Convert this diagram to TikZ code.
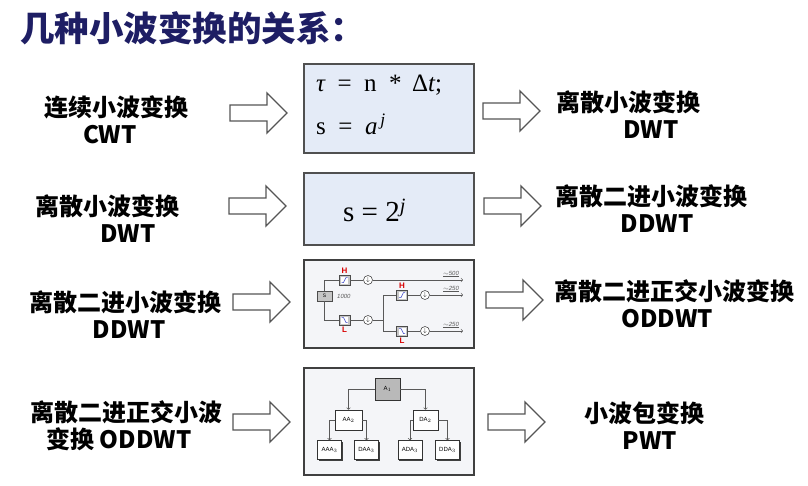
\documentclass[tikz,border=0pt]{standalone}
\usepackage{fontspec}
\newfontfamily\cjk{Noto Sans CJK SC}
\newfontfamily\serif{Liberation Serif}
\newfontfamily\sans{Liberation Sans}
\definecolor{titleblue}{RGB}{30,30,100}
\definecolor{boxblue}{RGB}{228,235,247}
\definecolor{boxgray}{RGB}{80,80,80}
\definecolor{picgray}{RGB}{244,245,248}
\definecolor{arrowgray}{RGB}{85,85,85}
\definecolor{filtblue}{RGB}{60,70,200}
\usetikzlibrary{positioning,shadows}

\begin{document}
\begin{tikzpicture}[x=1pt,y=-1pt,
        every node/.style={inner sep=0},
        headline/.style={font=\cjk\bfseries\fontsize{34.5}{36}\selectfont,text=titleblue},
        wavelabel/.style={font=\cjk\bfseries\fontsize{24}{27}\selectfont,align=center},
        formbox/.style={draw=boxgray,line width=1.8pt,fill=boxblue,minimum width=170},
        picbox/.style={draw=boxgray!80!black,line width=2.4pt,fill=picgray,minimum width=170},
        formula/.style={font=\serif\fontsize{25}{28}\selectfont},
        fatarrow/.pic={\draw[arrowgray,line width=1.3pt,fill=white] (0,-8) -- (37,-8) -- (37,-20) -- (57,0) -- (37,20) -- (37,8) -- (0,8) -- cycle;},
        wire/.style={draw=gray!70!black,line width=0.6pt},
        filt/.style={draw=gray!60!black,fill=gray!45,line width=0.6pt,minimum width=11,minimum height=10},
        hpass/.style={filt,path picture={
            \fill[white] ([shift={(-3.5pt,-3.5pt)}]path picture bounding box.center) rectangle ++(7pt,7pt);
            \draw[filtblue,line width=0.5pt] ([shift={(-3pt,-2.5pt)}]path picture bounding box.center) -- ++(2pt,0pt) -- ++(2.5pt,5pt) -- ++(1.5pt,0pt);}},
        lpass/.style={filt,path picture={
            \fill[white] ([shift={(-3.5pt,-3.5pt)}]path picture bounding box.center) rectangle ++(7pt,7pt);
            \draw[filtblue,line width=0.5pt] ([shift={(-3pt,2.5pt)}]path picture bounding box.center) -- ++(2pt,0pt) -- ++(2.5pt,-5pt) -- ++(1.5pt,0pt);}},
        dsamp/.style={circle,draw=gray!60!black,fill=white,line width=0.6pt,minimum size=9,font=\fontsize{6}{6}\selectfont},
        band/.style={font=\sans\itshape\fontsize{6}{7}\selectfont,text=gray!70!black},
        hl/.style={font=\sans\bfseries\fontsize{8}{8}\selectfont,text=red!85!black},
        treenode/.style={draw=gray!40!black,fill=white,line width=0.6pt,minimum width=24,minimum height=19,
            font=\sans\fontsize{6}{7}\selectfont,drop shadow={shadow xshift=1.2pt,shadow yshift=-1.2pt,fill=black!75,opacity=1}}
        ]
        \useasboundingbox (0,0) rectangle (808,486);

        % title
        \node[headline,anchor=west] (title) at (20,28) {几种小波变换的关系：};

        % names on the left
        \node[wavelabel] (cwt) at (116,119.5) {连续小波变换\\CWT\hspace*{12pt}};
        \node[wavelabel] (dwt) at (107,219) {离散小波变换\\\hspace*{42pt}DWT};
        \node[wavelabel] (ddwt) at (125,315) {离散二进小波变换\\\hspace*{8pt}DDWT};
        \node[wavelabel] (oddwt) at (126,426) {离散二进正交小波\\变换 ODDWT\hspace*{14pt}};

        % names on the right
        \node[wavelabel] (dwtr) at (628,114.5) {离散小波变换\\\hspace*{46pt}DWT};
        \node[wavelabel] (ddwtr) at (651,208.5) {离散二进小波变换\\\hspace*{12pt}DDWT};
        \node[wavelabel] (oddwtr) at (674,303.5) {离散二进正交小波变换\\ODDWT\hspace*{14pt}};
        \node[wavelabel] (pwt) at (644,425.5) {小波包变换\\\hspace*{12pt}PWT};

        % the block arrows
        \pic at (230,113) {fatarrow};
        \pic at (229,206) {fatarrow};
        \pic at (233,302) {fatarrow};
        \pic at (233,422) {fatarrow};
        \pic at (483,111) {fatarrow};
        \pic at (484,206) {fatarrow};
        \pic at (486,300) {fatarrow};
        \pic at (488,422) {fatarrow};

        % the boxes in the middle
        \node[formbox,minimum height=89] (box1) at (389,108.5) {};
        \node[formbox,minimum height=72] (box2) at (389,209) {};
        \node[picbox,minimum height=88] (box3) at (389,304) {};
        \node[picbox,minimum height=107] (box4) at (389,421.5) {};

        % formulas
        \node[formula,anchor=base west] (tau) at (316,92) {{\itshape τ}\ \ =\ \ n\ \ *\ \,Δ{\itshape t};};
        \node[formula,anchor=base west] (sa) at (316,135) {s\ \ =\ \ {\itshape a}\textsuperscript{\,\itshape j}};
        \node[formula,font=\serif\fontsize{29}{30}\selectfont,anchor=base west] (s2) at (343,222) {s = 2\textsuperscript{\itshape j}};

        % the filter bank
        \node[filt,minimum width=15,font=\sans\fontsize{5}{5}\selectfont] (sig) at (324.5,296) {S};
        \node[band,anchor=west] (n1000) at (337,296) {1000};
        \node[hpass] (h1) at (344.5,280) {};
        \node[lpass] (l1) at (344.5,320) {};
        \node[hl,above=1.5pt of h1] (h1t) {H};
        \node[hl,below=1.5pt of l1] (l1t) {L};
        \node[dsamp] (d1) at (368,280) {$\downarrow$};
        \node[dsamp] (d2) at (368,320) {$\downarrow$};
        \coordinate (junc) at (383,320);
        \node[hpass] (h2) at (402,295) {};
        \node[lpass] (l2) at (402,331) {};
        \node[hl,above=1.5pt of h2] (h2t) {H};
        \node[hl,below=1.5pt of l2] (l2t) {L};
        \node[dsamp] (d3) at (425,295) {$\downarrow$};
        \node[dsamp] (d4) at (425,331) {$\downarrow$};
        \coordinate (out1) at (463,280);
        \coordinate (out2) at (463,295);
        \coordinate (out3) at (463,331);
        \node[band] (b500) at (451,274) {\underline{$\sim$500}};
        \node[band] (b250a) at (451,289) {\underline{$\sim$250}};
        \node[band] (b250b) at (451,325) {\underline{$\sim$250}};

        \draw[wire] (sig.north) |- (h1.west);
        \draw[wire] (sig.south) |- (l1.west);
        \draw[wire] (h1) -- (d1);
        \draw[wire] (l1) -- (d2);
        \draw[wire,->] (d1) -- (out1);
        \draw[wire] (d2) -- (junc);
        \draw[wire] (junc) |- (h2.west);
        \draw[wire] (junc) |- (l2.west);
        \draw[wire] (h2) -- (d3);
        \draw[wire] (l2) -- (d4);
        \draw[wire,->] (d3) -- (out2);
        \draw[wire,->] (d4) -- (out3);

        % the packet tree
        \node[treenode,fill=gray!55,minimum width=25,minimum height=22] (a1) at (387.5,389) {A$_1$};
        \node[treenode,minimum width=27,minimum height=20] (aa2) at (348.5,420) {AA$_2$};
        \node[treenode,minimum width=25,minimum height=20] (da2) at (425.5,420) {DA$_2$};
        \node[treenode] (aaa3) at (329.5,450) {AAA$_3$};
        \node[treenode] (daa3) at (366.5,450) {DAA$_3$};
        \node[treenode] (ada3) at (410,450) {ADA$_3$};
        \node[treenode] (dda3) at (447.5,450) {DDA$_3$};

        \draw[wire,->] (a1.west) -| (aa2.north);
        \draw[wire,->] (a1.east) -| (da2.north);
        \draw[wire,->] (aa2.west) -| (aaa3.north);
        \draw[wire,->] (aa2.east) -| (daa3.north);
        \draw[wire,->] (da2.west) -| (ada3.north);
        \draw[wire,->] (da2.east) -| (dda3.north);
\end{tikzpicture}
\end{document}
